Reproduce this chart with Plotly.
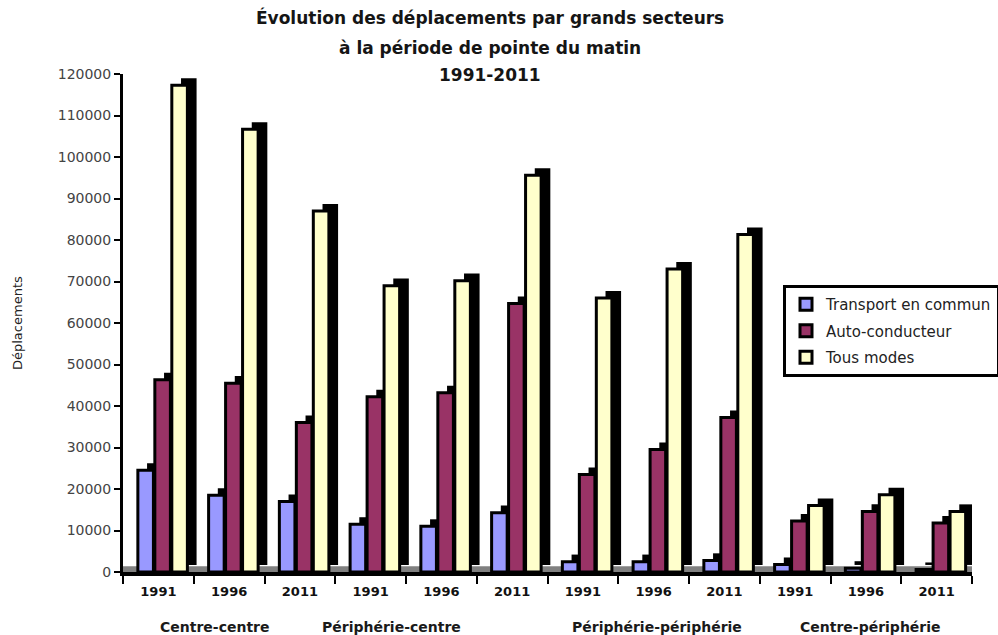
import plotly.graph_objects as go

# Morning peak trips by sector and survey year
sectors = ["Centre-centre", "Périphérie-centre", "Périphérie-périphérie", "Centre-périphérie"]
years = ["1991", "1996", "2011"]

transport_en_commun = [24500, 18500, 17000, 11500, 11000, 14300, 2500, 2500, 2800, 1800, 900, 600]
auto_conducteur = [46300, 45500, 36000, 42200, 43200, 64700, 23500, 29500, 37200, 12300, 14600, 11800]
tous_modes = [117300, 106700, 87000, 69000, 70200, 95600, 66000, 73000, 81300, 16000, 18600, 14600]

series_names = ["Transport en commun", "Auto-conducteur", "Tous modes"]
series_values = [transport_en_commun, auto_conducteur, tous_modes]
series_colors = ["#9999FF", "#993366", "#FFFFCC"]

n_groups = len(sectors) * len(years)
x_pos = list(range(n_groups))
year_labels = [y for _ in sectors for y in years]

# pseudo-3D geometry (category units / data units)
face_width = 0.22
face_offsets = [-0.29, -0.05, 0.19]
depth_dx = 0.13
depth_dy = 1700

fig = go.Figure()
for name, vals, color, off in zip(series_names, series_values, series_colors, face_offsets):
    # dark side/top of the column
    fig.add_trace(go.Bar(
        x=x_pos, y=vals, base=depth_dy,
        offset=off + depth_dx, width=face_width,
        marker=dict(color="black", line=dict(width=0)),
        showlegend=False, hoverinfo="skip", legendgroup=name,
    ))
    # front face
    fig.add_trace(go.Bar(
        x=x_pos, y=vals, name=name, legendgroup=name,
        offset=off, width=face_width,
        marker=dict(color=color, line=dict(color="black", width=3)),
    ))

plot_top, plot_bottom, plot_left, plot_right = 74, 572, 123, 972
px_w = plot_right - plot_left
px_h = plot_bottom - plot_top


def paper_x(px):
    return (px - plot_left) / px_w


def paper_y(py):
    return (plot_bottom - py) / px_h


title_font = dict(family="DejaVu Sans", size=17, color="#151515", weight="bold")
title_lines = [
    ("Évolution des déplacements par grands secteurs", 18),
    ("à la période de pointe du matin", 48),
    ("1991-2011", 75),
]
annotations = []
for text, py in title_lines:
    annotations.append(dict(
        text=text, xref="paper", yref="paper", x=paper_x(490), y=paper_y(py),
        xanchor="center", yanchor="middle", showarrow=False, font=title_font,
    ))

# sector names under each block of three years
sector_centres = [0.8, 3.3, 7.05, 10.07]
for name, xc in zip(sectors, sector_centres):
    annotations.append(dict(
        text=name, xref="x", yref="paper", x=xc, y=paper_y(627),
        xanchor="center", yanchor="middle", showarrow=False,
        font=dict(family="DejaVu Sans", size=14, color="#1a1a1a", weight="bold"),
    ))

annotations.append(dict(
    text="Déplacements", xref="paper", yref="paper", x=paper_x(17), y=paper_y(323),
    textangle=-90, xanchor="center", yanchor="middle", showarrow=False,
    font=dict(family="DejaVu Sans", size=13, color="#222222"),
))

fig.update_layout(
    width=998, height=635,
    margin=dict(l=plot_left, r=998 - plot_right, t=plot_top, b=635 - plot_bottom, autoexpand=False),
    paper_bgcolor="white", plot_bgcolor="white",
    barmode="overlay",
    showlegend=True,
    legend=dict(
        x=paper_x(783), y=paper_y(285), xanchor="left", yanchor="top",
        bordercolor="black", borderwidth=3, bgcolor="white",
        font=dict(family="DejaVu Sans", size=15, color="#222222"),
        itemwidth=30, traceorder="grouped", tracegroupgap=4,
    ),
    annotations=annotations,
    shapes=[dict(
        type="rect", xref="paper", yref="y", x0=0, x1=1, y0=0, y1=1400,
        fillcolor="#808080", line=dict(width=0), layer="below",
    )],
)

fig.update_xaxes(
    range=[-0.5, n_groups - 0.5],
    tickmode="array", tickvals=x_pos, ticktext=year_labels,
    ticks="", ticklabelstandoff=4,
    minor=dict(tickmode="linear", tick0=-0.5, dtick=1, ticks="outside",
               ticklen=8, tickwidth=2, tickcolor="black", showgrid=False),
    showline=True, linecolor="black", linewidth=4,
    showgrid=False, zeroline=False,
    tickfont=dict(family="DejaVu Sans", size=13, color="#111111", weight="bold"),
)
fig.update_yaxes(
    range=[0, 120000], tickvals=list(range(0, 120001, 10000)), tickformat="d",
    showline=True, linecolor="black", linewidth=3,
    ticks="outside", ticklen=6, tickwidth=2, tickcolor="black",
    showgrid=False, zeroline=False,
    tickfont=dict(family="DejaVu Sans", size=14, color="#444444"),
)

fig.write_html("out.html")
